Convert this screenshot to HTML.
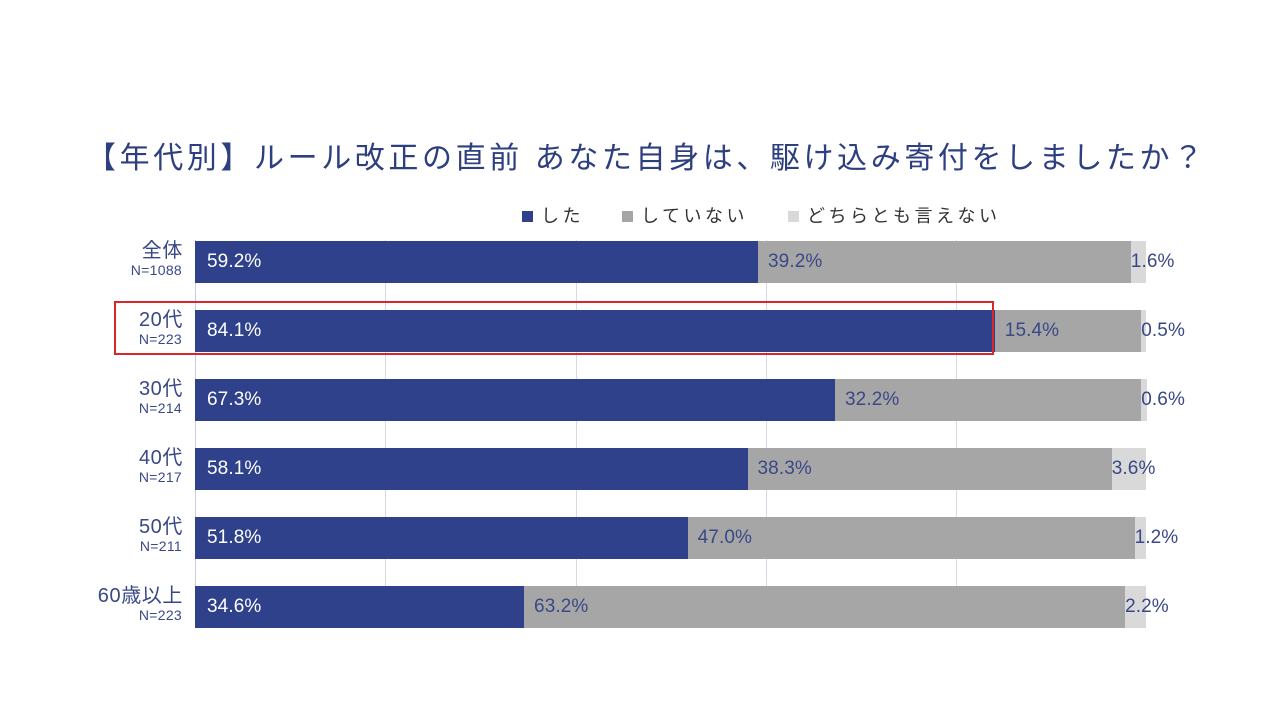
<!DOCTYPE html>
<html><head><meta charset="utf-8"><style>
body{margin:0;width:1280px;height:720px;background:#fff;position:relative;overflow:hidden;font-family:"Liberation Sans","Noto Sans CJK JP",sans-serif;color:#3a4888}
.a{position:absolute;white-space:nowrap}
.bar{position:absolute;height:42px}
.b1{background:#2e418a}.b2{background:#a6a6a6}.b3{background:#d9d9d9}
.g{position:absolute;top:240px;height:388px;width:1px;background:#d6d9e6}
.lab{position:absolute;right:1098px;text-align:right;line-height:1;white-space:nowrap}
.lab .m{font-size:20px;letter-spacing:0.6px;margin-right:-1px}.lab .n{font-size:14px;margin-top:2px;letter-spacing:0.3px}
.p{position:absolute;font-size:19px;line-height:42px;letter-spacing:0.1px;white-space:nowrap}
.w{color:#fff}
.leg{position:absolute;top:202px;font-size:18px;color:#333;letter-spacing:3.5px;white-space:nowrap}
.leg span{display:inline-block;width:11px;height:11px;margin-right:8px;vertical-align:0}
</style></head><body>
<div class="a" style="left:86px;top:133px;font-size:30px;letter-spacing:3.6px;color:#2e3f80">【年代別】ルール改正の直前 あなた自身は、駆け込み寄付をしましたか？</div>
<div class="leg" style="left:522px"><span style="background:#2e418a"></span>した</div>
<div class="leg" style="left:622px"><span style="background:#a6a6a6"></span>していない</div>
<div class="leg" style="left:788px"><span style="background:#d9d9d9"></span>どちらとも言えない</div>
<div class="g" style="left:195px;background:#c8cce0"></div>
<div class="g" style="left:385px"></div><div class="g" style="left:576px"></div><div class="g" style="left:766px"></div><div class="g" style="left:956px"></div>
<div id="c"></div>
<div class="a" style="left:114px;top:301px;width:876px;height:50px;border:2px solid #d9262a"></div>
<script>
var d=[["全体","N=1088",59.2,39.2,1.6],["20代","N=223",84.1,15.4,0.5],["30代","N=214",67.3,32.2,0.6],["40代","N=217",58.1,38.3,3.6],["50代","N=211",51.8,47.0,1.2],["60歳以上","N=223",34.6,63.2,2.2]];
var h="",x0=195,W=951;
d.forEach(function(r,i){var t=241+i*69;var w1=r[2]/100*W,w2=r[3]/100*W,w3=r[4]/100*W;
h+='<div class="lab" style="top:'+t+'px"><div class="m">'+r[0]+'</div><div class="n">'+r[1]+'</div></div>';
h+='<div class="bar b1" style="top:'+t+'px;left:'+x0+'px;width:'+w1+'px"></div>';
h+='<div class="bar b2" style="top:'+t+'px;left:'+(x0+w1)+'px;width:'+w2+'px"></div>';
h+='<div class="bar b3" style="top:'+t+'px;left:'+(x0+w1+w2)+'px;width:'+w3+'px"></div>';
h+='<div class="p w" style="top:'+t+'px;left:'+(x0+12)+'px">'+r[2].toFixed(1)+'%</div>';
h+='<div class="p" style="top:'+t+'px;left:'+(x0+w1+10)+'px">'+r[3].toFixed(1)+'%</div>';
h+='<div class="p" style="top:'+t+'px;left:'+(x0+w1+w2)+'px">'+r[4].toFixed(1)+'%</div>';});
document.getElementById("c").innerHTML=h;
</script>
</body></html>
